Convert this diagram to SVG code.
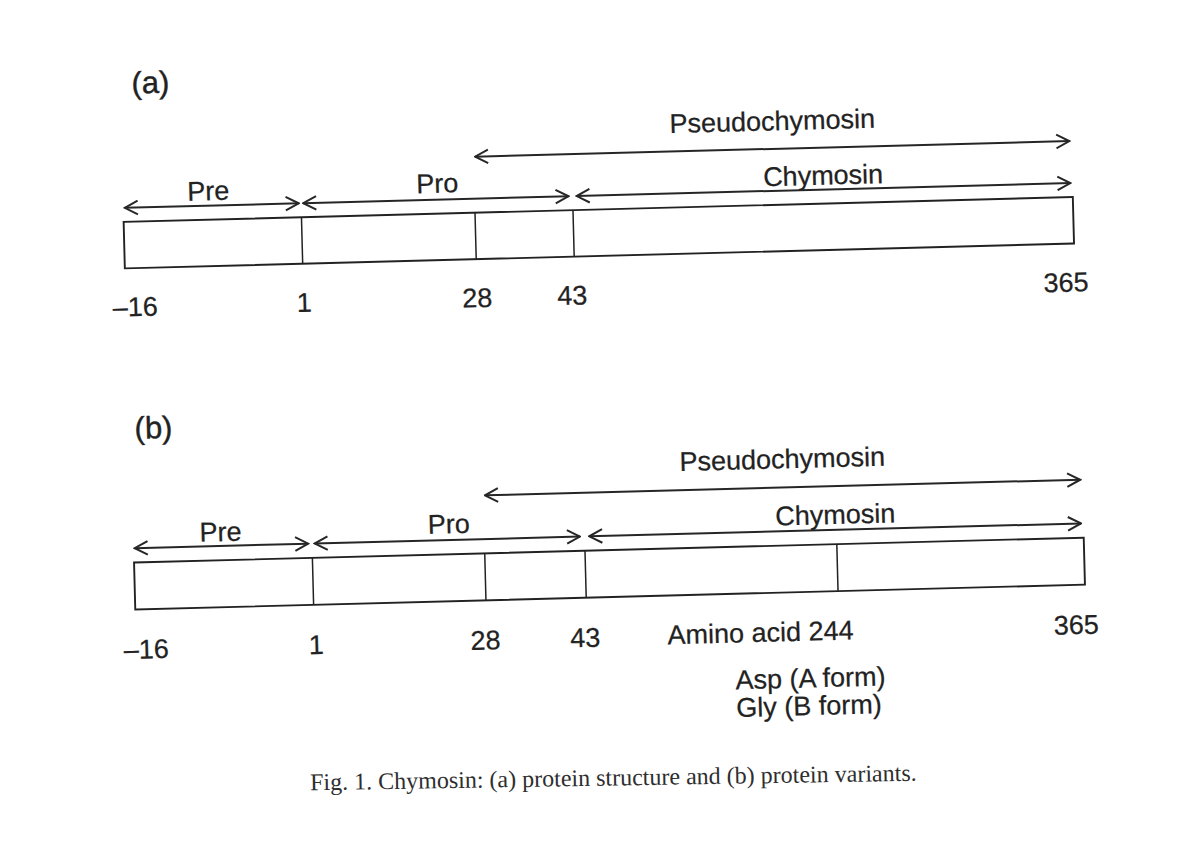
<svg xmlns="http://www.w3.org/2000/svg" width="1190" height="868" viewBox="0 0 1190 868">
  <defs>
    <style>
      .bar { fill: #ffffff; stroke: #222222; stroke-width: 1.9; }
      .div { stroke: #222222; stroke-width: 1.5; }
      .arr { stroke: #262626; stroke-width: 2; fill: none; marker-start: url(#head); marker-end: url(#head); }
      .lbl { font-family: "Liberation Sans", Arial, sans-serif; font-size: 27px; fill: #222222; stroke: #222222; stroke-width: 0.25; text-anchor: middle; }
      .pan { font-family: "Liberation Sans", Arial, sans-serif; font-size: 31px; fill: #222222; stroke: #222222; stroke-width: 0.4; }
      .cap { font-family: "Liberation Serif", "Times New Roman", serif; font-size: 24px; fill: #2e2e2e; text-anchor: middle; }
    </style>
    <marker id="head" viewBox="0 0 16 16" markerUnits="userSpaceOnUse" markerWidth="16" markerHeight="16" refX="14.5" refY="8" orient="auto-start-reverse">
      <path d="M1.5,1.2 L14.5,8 L1.5,14.8" fill="none" stroke="#262626" stroke-width="2"/>
    </marker>
  </defs>
  <rect x="0" y="0" width="1190" height="868" fill="#ffffff"/>

  <g transform="rotate(-1.5 600 440)">
    <!-- Panel (a) -->
    <g id="panel-a-label"><text class="pan" x="141" y="81.5">(a)</text></g>
    <g id="panel-a-bar">
      <rect class="bar" x="129.5" y="209.5" width="949.5" height="46.5"/>
      <line class="div" x1="307.4" y1="209.5" x2="307.4" y2="256"/>
      <line class="div" x1="481" y1="209.5" x2="481" y2="256"/>
      <line class="div" x1="579" y1="209.5" x2="579" y2="256"/>
    </g>
    <g id="panel-a-region-labels">
      <text class="lbl" x="215" y="190">Pre</text>
      <text class="lbl" x="444" y="188.5">Pro</text>
      <text class="lbl" x="830" y="190.5">Chymosin</text>
      <text class="lbl" x="780.5" y="135">Pseudochymosin</text>
    </g>
    <g id="panel-a-numbers">
      <text class="lbl" x="139" y="304">–16</text>
      <text class="lbl" x="308" y="304">1</text>
      <text class="lbl" x="481" y="304">28</text>
      <text class="lbl" x="576" y="304">43</text>
      <text class="lbl" x="1070" y="304">365</text>
    </g>

    <!-- Panel (b) -->
    <g id="panel-b-label"><text class="pan" x="135" y="426.7">(b)</text></g>
    <g id="panel-b-bar">
      <rect class="bar" x="131" y="550.3" width="950" height="47"/>
      <line class="div" x1="309.4" y1="550.3" x2="309.4" y2="597.3"/>
      <line class="div" x1="481.8" y1="550.3" x2="481.8" y2="597.3"/>
      <line class="div" x1="582.1" y1="550.3" x2="582.1" y2="597.3"/>
      <line class="div" x1="834" y1="550.3" x2="834" y2="597.3"/>
    </g>
    <g id="panel-b-region-labels">
      <text class="lbl" x="218.2" y="531.1">Pre</text>
      <text class="lbl" x="446.6" y="529.3">Pro</text>
      <text class="lbl" x="833.3" y="530">Chymosin</text>
      <text class="lbl" x="781.8" y="473.1">Pseudochymosin</text>
    </g>
    <g id="panel-b-numbers">
      <text class="lbl" x="141" y="646.5">–16</text>
      <text class="lbl" x="311" y="646.5">1</text>
      <text class="lbl" x="480.3" y="646.5">28</text>
      <text class="lbl" x="580" y="646.5">43</text>
      <text class="lbl" x="1071.2" y="646.5">365</text>
      <text class="lbl" x="755.5" y="646">Amino acid 244</text>
      <text class="lbl" x="804.3" y="692.8">Asp (A form)</text>
      <text class="lbl" x="802" y="720.5">Gly (B form)</text>
    </g>

    <!-- Connectors (dimension arrows) -->
    <g id="connectors">
      <line class="arr" x1="131" y1="195.5" x2="305" y2="195.5"/>
      <line class="arr" x1="309.5" y1="195.5" x2="575" y2="195.5"/>
      <line class="arr" x1="583" y1="195.5" x2="1077" y2="195.5"/>
      <line class="arr" x1="482.5" y1="153.5" x2="1077" y2="153.5"/>

      <line class="arr" x1="132" y1="536" x2="305.6" y2="536"/>
      <line class="arr" x1="312" y1="536" x2="577.5" y2="536"/>
      <line class="arr" x1="586.7" y1="536" x2="1078.6" y2="536"/>
      <line class="arr" x1="483.6" y1="492.3" x2="1079" y2="492.3"/>
    </g>
  </g>

  <g id="caption" transform="rotate(-0.9 613 785)">
    <text class="cap" x="613.5" y="785.5">Fig. 1. Chymosin: (a) protein structure and (b) protein variants.</text>
  </g>
</svg>
